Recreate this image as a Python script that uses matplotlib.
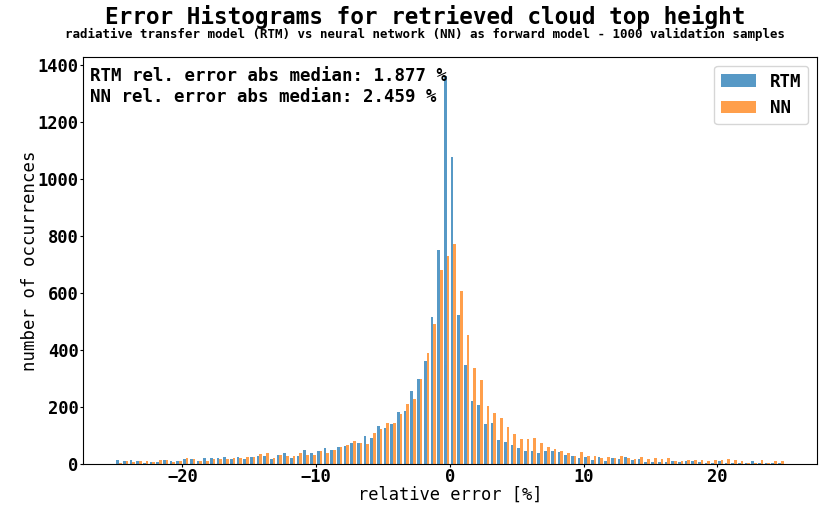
import numpy as np
import matplotlib
matplotlib.use("Agg")
import matplotlib.pyplot as plt

# bin edges: -25 .. 25 in steps of 0.5 (100 bins)
bin_start = -25.0
bin_width = 0.5
n_bins = 100

rtm_counts = [14, 11, 14, 11, 5, 7, 7, 14, 11, 11,
              18, 18, 12, 22, 22, 20, 25, 17, 26, 17,
              25, 27, 27, 16, 32, 37, 20, 29, 48, 40,
              44, 55, 48, 59, 62, 75, 75, 97, 90, 132,
              125, 139, 182, 186, 256, 300, 360, 515, 752, 1361,
              1079, 523, 346, 220, 208, 141, 143, 84, 78, 65,
              55, 46, 44, 40, 44, 44, 41, 32, 27, 22,
              24, 13, 26, 9, 20, 19, 26, 13, 17, 7,
              6, 8, 7, 10, 6, 9, 9, 6, 5, 4,
              9, 4, 4, 5, 2, 9, 2, 2, 4, 5]

nn_counts = [4, 11, 7, 11, 11, 7, 14, 14, 7, 11,
             21, 18, 12, 11, 19, 17, 19, 20, 22, 25,
             25, 35, 38, 22, 32, 28, 28, 40, 33, 33,
             46, 39, 48, 59, 68, 81, 75, 71, 109, 122,
             145, 145, 174, 211, 229, 300, 389, 491, 681, 732,
             771, 608, 452, 337, 296, 202, 180, 160, 129, 105,
             88, 86, 90, 73, 60, 53, 45, 40, 27, 42,
             29, 27, 21, 24, 22, 27, 20, 19, 26, 19,
             22, 19, 22, 10, 9, 13, 13, 13, 9, 15,
             13, 19, 13, 9, 5, 4, 13, 5, 9, 9]

series_labels = ["RTM", "NN"]
rtm_median = 1.877
nn_median = 2.459

edges = bin_start + bin_width * np.arange(n_bins + 1)
centers = 0.5 * (edges[:-1] + edges[1:])

mono = "DejaVu Sans Mono"

fig = plt.figure(figsize=(8.21, 5.05), dpi=100)
ax = fig.add_axes([0.101, 0.0812, 0.894, 0.806])

ax.hist([centers, centers], bins=edges, weights=[rtm_counts, nn_counts],
        label=series_labels, alpha=0.75, color=["#1f77b4", "#ff7f0e"])

ax.tick_params(length=2.5, pad=0.6)
ax.set_xlabel("relative error [%]", family=mono, fontsize=12.3, labelpad=-0.3)
ax.set_ylabel("number of occurrences", family=mono, fontsize=12.5, labelpad=-1)

for lab in ax.get_xticklabels() + ax.get_yticklabels():
    lab.set_family(mono)
    lab.set_fontweight("bold")
    lab.set_fontsize(12.3)

ax.text(0.009, 0.975,
        f"RTM rel. error abs median: {rtm_median:.3f} %\nNN rel. error abs median: {nn_median:.3f} %",
        transform=ax.transAxes, va="top", ha="left",
        family=mono, fontweight="bold", fontsize=12.5, linespacing=1.22)

ax.legend(loc="upper right", prop={"family": mono, "weight": "bold", "size": 12.5})

fig.text(0.518, 0.966, "Error Histograms for retrieved cloud top height",
         ha="center", va="center", family=mono, fontweight="bold", fontsize=16.3)
fig.text(0.518, 0.932,
         "radiative transfer model (RTM) vs neural network (NN) as forward model - 1000 validation samples",
         ha="center", va="center", family=mono, fontweight="bold", fontsize=9)

fig.savefig("out.png", dpi=100)
